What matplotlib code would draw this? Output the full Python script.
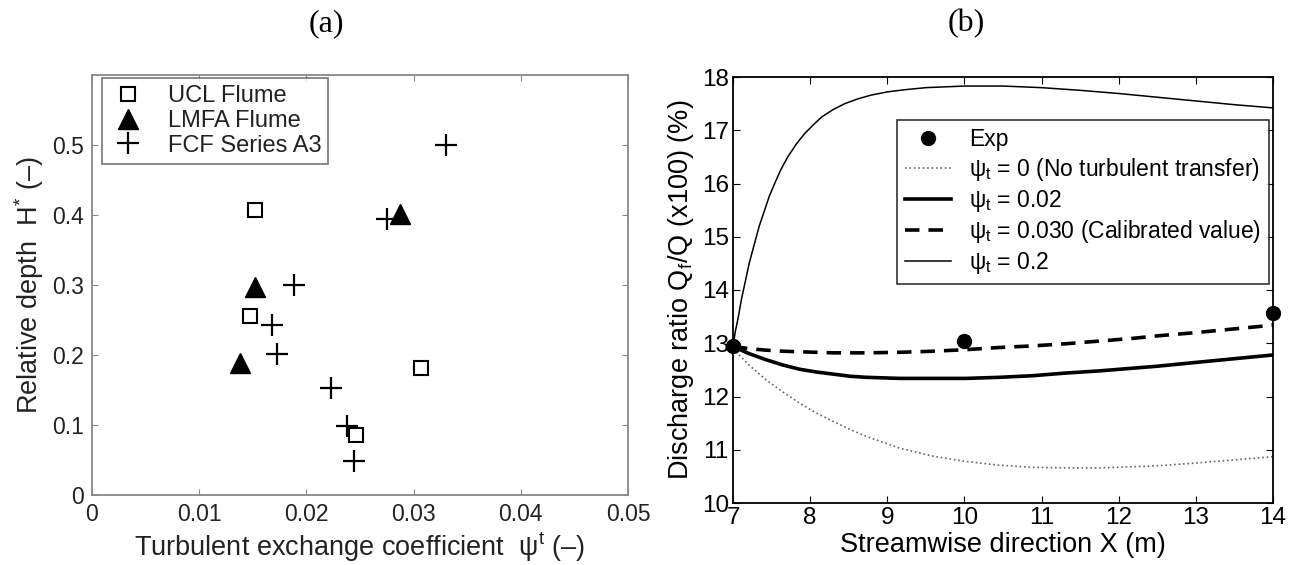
import matplotlib
matplotlib.use('Agg')
import matplotlib.pyplot as plt

plt.rcParams['font.family'] = ['Liberation Sans', 'DejaVu Sans']
plt.rcParams['mathtext.fontset'] = 'custom'
plt.rcParams['mathtext.rm'] = 'Liberation Sans'
plt.rcParams['mathtext.it'] = 'Liberation Sans'

# (a) turbulent exchange coefficient vs relative depth
ucl_psi = [0.0152, 0.0147, 0.0307, 0.0246]
ucl_h = [0.407, 0.256, 0.182, 0.086]
lmfa_psi = [0.0287, 0.0152, 0.0138]
lmfa_h = [0.401, 0.297, 0.188]
fcf_psi = [0.0330, 0.0275, 0.0188, 0.0168, 0.0173, 0.0223, 0.0238, 0.0244]
fcf_h = [0.500, 0.395, 0.300, 0.243, 0.201, 0.153, 0.099, 0.049]

# (b) discharge ratio along the flume
exp_x = [7, 10, 14]
exp_q = [12.94, 13.05, 13.57]

x_02 = [7, 7.03, 7.07, 7.11, 7.155, 7.21, 7.28, 7.34, 7.41, 7.47, 7.54, 7.62,
        7.71, 7.82, 7.93, 8.04, 8.15, 8.3, 8.45, 8.62, 8.79, 9.0, 9.22, 9.5,
        10.0, 10.5, 11.0, 11.5, 12.0, 12.5, 13.0, 13.5, 14.0]
q_02 = [12.94, 13.22, 13.5, 13.83, 14.13, 14.5, 14.88, 15.2, 15.5, 15.76, 16.0,
        16.26, 16.5, 16.74, 16.94, 17.1, 17.25, 17.39, 17.5, 17.59, 17.66, 17.72,
        17.76, 17.8, 17.83, 17.83, 17.8, 17.75, 17.69, 17.62, 17.55, 17.48, 17.42]

x_sim = [7, 7.2, 7.43, 7.65, 7.87, 8.08, 8.30, 8.52, 8.73, 9.16, 9.59, 10.02,
         10.45, 10.88, 11.31, 11.74, 12.17, 12.51, 13.0, 13.5, 14.0]
q_002 = [12.94, 12.81, 12.69, 12.59, 12.51, 12.46, 12.42, 12.38, 12.36, 12.34,
         12.34, 12.34, 12.36, 12.39, 12.44, 12.48, 12.53, 12.57, 12.64, 12.71,
         12.78]
q_0030 = [12.94, 12.9, 12.87, 12.85, 12.84, 12.83, 12.82, 12.82, 12.82, 12.83,
          12.85, 12.88, 12.92, 12.95, 12.99, 13.04, 13.09, 13.14, 13.20, 13.27,
          13.34]
q_0 = [12.90, 12.6, 12.31, 12.08, 11.87, 11.69, 11.53, 11.38, 11.25, 11.03,
       10.88, 10.78, 10.71, 10.67, 10.66, 10.66, 10.68, 10.70, 10.75, 10.81,
       10.87]

fig = plt.figure(figsize=(12.96, 5.65), dpi=100)

# ---------- (a) ----------
grey = '#222222'
ax1 = fig.add_axes([92 / 1296, 70 / 565, 536 / 1296, 420 / 565])
ax1.plot(ucl_psi, ucl_h, 's', ms=10.5, mfc='white', mec='black', mew=1.5,
         linestyle='none', label='UCL Flume')
ax1.plot(lmfa_psi, lmfa_h, '^', ms=15, color='black', linestyle='none',
         label='LMFA Flume')
ax1.plot(fcf_psi, fcf_h, '+', ms=16, mew=1.6, color='black', linestyle='none',
         label='FCF Series A3')
ax1.set_xlim(0, 0.05)
ax1.set_ylim(0, 0.6)
ax1.set_xticks([0, 0.01, 0.02, 0.03, 0.04, 0.05])
ax1.set_xticklabels(['0', '0.01', '0.02', '0.03', '0.04', '0.05'])
ax1.set_yticks([0, 0.1, 0.2, 0.3, 0.4, 0.5])
ax1.set_yticklabels(['0', '0.1', '0.2', '0.3', '0.4', '0.5'])
ax1.tick_params(direction='in', top=True, right=True, length=4, labelsize=16.5,
                colors='#888888', labelcolor=grey, pad=6)
for s in ax1.spines.values():
    s.set_color('#888888')
    s.set_linewidth(1.3)
ax1.set_xlabel('Turbulent exchange coefficient  ψ$^{t}$ (–)', fontsize=19.5,
               color=grey, labelpad=3)
ax1.set_ylabel('Relative depth  H$^{*}$ (–)', fontsize=19.5, color=grey, labelpad=4)
leg1 = ax1.legend(loc='upper left', bbox_to_anchor=(0.018, 0.993), borderaxespad=0,
                  fontsize=17, frameon=True, fancybox=False, handlelength=1.6,
                  handletextpad=0.9, labelspacing=0.12, borderpad=0.3,
                  labelcolor=grey)
leg1.get_frame().set_edgecolor('#555555')
leg1.get_frame().set_linewidth(1.2)
fig.text(326 / 1296, 1 - 24 / 565, '(a)', ha='center', va='center',
         fontsize=23, family='Liberation Serif')

# ---------- (b) ----------
ax2 = fig.add_axes([733 / 1296, 62 / 565, 540 / 1296, 426 / 565])
ax2.plot(exp_x, exp_q, 'o', ms=10, color='black', linestyle='none', label='Exp',
         clip_on=False, zorder=5)
ax2.plot(x_sim, q_0, ':', lw=1.2, color='#666666',
         label='$\\psi_t$ = 0 (No turbulent transfer)')
ax2.plot(x_sim, q_002, '-', lw=2.6, color='black', label='$\\psi_t$ = 0.02')
ax2.plot(x_sim, q_0030, '--', lw=2.6, color='black', dashes=(4, 2.5),
         label='$\\psi_t$ = 0.030 (Calibrated value)')
ax2.plot(x_02, q_02, '-', lw=1.1, color='black', label='$\\psi_t$ = 0.2')
ax2.set_xlim(7, 14)
ax2.set_ylim(10, 18)
ax2.set_xticks(range(7, 15))
ax2.set_yticks(range(10, 19))
ax2.tick_params(direction='in', top=True, right=True, length=5, labelsize=17.5,
                pad=3)
for s in ax2.spines.values():
    s.set_linewidth(1.3)
ax2.set_xlabel('Streamwise direction X (m)', fontsize=19.5, labelpad=2)
ax2.set_ylabel('Discharge ratio Q$_f$/Q (x100) (%)', fontsize=19.5, labelpad=4)
leg2 = ax2.legend(loc='upper right', bbox_to_anchor=(0.993, 0.898), borderaxespad=0,
                  fontsize=16.5, frameon=True, fancybox=False, handlelength=2.0,
                  handletextpad=0.8, labelspacing=0.2, borderpad=0.35)
leg2.get_frame().set_edgecolor('black')
leg2.get_frame().set_linewidth(1.2)
fig.text(966 / 1296, 1 - 24 / 565, '(b)', ha='center', va='center',
         fontsize=23, family='Liberation Serif')

fig.savefig('out.png', dpi=100)
